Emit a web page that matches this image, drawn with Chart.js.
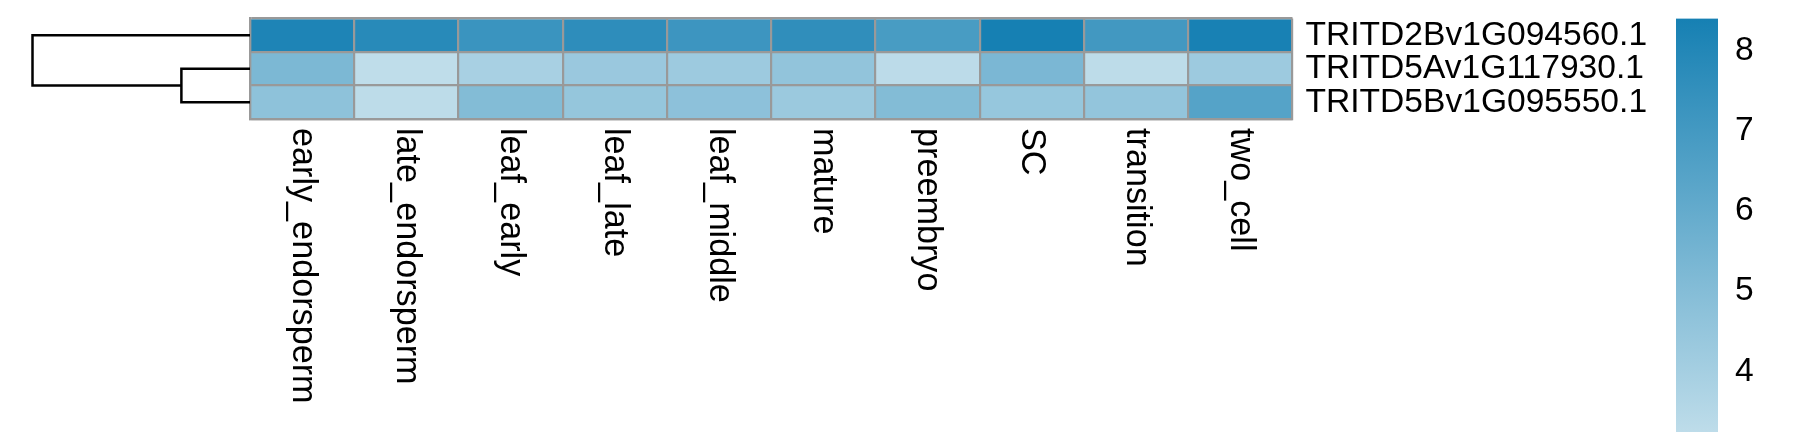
<!DOCTYPE html>
<html>
<head>
<meta charset="utf-8">
<script src="https://cdn.jsdelivr.net/npm/chart.js@4.4.1/dist/chart.umd.min.js"></script>
<style>
  html, body { margin: 0; padding: 0; background: #fff; }
  #wrap { position: relative; width: 1795px; height: 432px; overflow: hidden; background: #fff; }
  #wrap canvas { position: absolute; left: 0; top: 0; }
</style>
</head>
<body>
<div id="wrap">
  <canvas id="heatmap" width="1795" height="432"></canvas>
  <canvas id="legend" width="1795" height="440"></canvas>
</div>
<script>
// Datos: columnas (tejidos), filas (genes) y valores de expresión
const samples = ['early_endorsperm', 'late_endorsperm', 'leaf_early', 'leaf_late', 'leaf_middle',
                 'mature', 'preembryo', 'SC', 'transition', 'two_cell'];
const genes = ['TRITD2Bv1G094560.1', 'TRITD5Av1G117930.1', 'TRITD5Bv1G095550.1'];

const gene2B = [8.15, 7.85, 7.3, 7.65, 7.2, 7.6, 6.85, 8.4, 7.05, 8.35];
const gene5A = [5.25, 3.2, 3.9, 4.35, 4.25, 4.6, 3.3, 5.3, 3.25, 4.25];
const gene5B = [4.7, 3.25, 5.05, 4.5, 4.75, 4.3, 5.05, 4.45, 4.55, 6.45];
const rows = [gene2B, gene5A, gene5B];

const legendTicks = [4, 5, 6, 7, 8];

// Escala de color (lineal entre claro y oscuro)
const lowColor = [191, 221, 234];
const highColor = [22, 128, 179];
const valueMin = Math.min(...rows.flat());
const valueMax = Math.max(...rows.flat());

function colorFor(v) {
  const t = (v - valueMin) / (valueMax - valueMin);
  const c = lowColor.map((lo, k) => Math.round(lo + (highColor[k] - lo) * t));
  return `rgb(${c[0]}, ${c[1]}, ${c[2]})`;
}

// Clustering jerárquico (euclídeo, enlace completo) para el dendrograma
function hclustComplete(data) {
  const dist = (a, b) => Math.sqrt(a.reduce((s, v, k) => s + (v - b[k]) ** 2, 0));
  let clusters = data.map((r, i) => ({ leaf: i, members: [i], height: 0 }));
  while (clusters.length > 1) {
    let best = null;
    for (let i = 0; i < clusters.length; i++) {
      for (let j = i + 1; j < clusters.length; j++) {
        let d = 0;
        clusters[i].members.forEach(p => clusters[j].members.forEach(q => {
          d = Math.max(d, dist(data[p], data[q]));
        }));
        if (!best || d < best.d) best = { i, j, d };
      }
    }
    const a = clusters[best.i], b = clusters[best.j];
    const node = { children: [a, b], members: a.members.concat(b.members), height: best.d };
    clusters = clusters.filter((_, k) => k !== best.i && k !== best.j).concat([node]);
  }
  return clusters[0];
}
const tree = hclustComplete(rows);

const FONT = "'Liberation Sans', Arial, sans-serif";
Chart.defaults.font.family = FONT;
Chart.defaults.color = '#000';

const GRID = '#999999';
const treeLeft = 32.5;

const dendrogramPlugin = {
  id: 'dendrogram',
  afterDraw(chart) {
    const { ctx, chartArea, scales: { y } } = chart;
    const right = chartArea.left;
    const xFor = h => right - (h / tree.height) * (right - treeLeft);
    ctx.save();
    ctx.strokeStyle = '#000';
    ctx.lineWidth = 2.5;
    ctx.lineJoin = 'miter';
    ctx.lineCap = 'butt';
    function place(node) {
      if (node.children === undefined) {
        return { x: right, y: y.getPixelForValue(node.leaf + 0.5) };
      }
      const [c1, c2] = node.children.map(place);
      const nx = xFor(node.height);
      ctx.beginPath();
      ctx.moveTo(c1.x, c1.y);
      ctx.lineTo(nx, c1.y);
      ctx.lineTo(nx, c2.y);
      ctx.lineTo(c2.x, c2.y);
      ctx.stroke();
      return { x: nx, y: (c1.y + c2.y) / 2 };
    }
    place(tree);
    ctx.restore();
  }
};

const colLabelPlugin = {
  id: 'colLabels',
  afterDraw(chart) {
    const { ctx, chartArea, scales: { x } } = chart;
    ctx.save();
    ctx.font = '34.2px ' + FONT;
    ctx.fillStyle = '#000';
    ctx.textAlign = 'left';
    ctx.textBaseline = 'middle';
    samples.forEach((s, i) => {
      ctx.save();
      ctx.translate(x.getPixelForValue(i), chartArea.bottom + 9);
      ctx.rotate(Math.PI / 2);
      ctx.fillText(s, 0, 0);
      ctx.restore();
    });
    ctx.restore();
  }
};

// Mapa de calor
new Chart(document.getElementById('heatmap'), {
  type: 'bar',
  data: {
    labels: samples,
    datasets: rows.map((vals, r) => ({
      label: genes[r],
      data: vals.map(() => [r, r + 1]),
      backgroundColor: vals.map(colorFor),
      borderWidth: 0,
      barPercentage: 1,
      categoryPercentage: 1,
      grouped: false,
      yAxisID: 'y'
    }))
  },
  options: {
    responsive: false,
    animation: false,
    devicePixelRatio: 1,
    layout: { padding: { left: 250, top: 18.5, right: 0, bottom: 0 } },
    plugins: { legend: { display: false }, tooltip: { enabled: false } },
    scales: {
      x: {
        grid: { color: GRID, lineWidth: 2.2, drawTicks: false, offset: true, z: 1 },
        border: { color: GRID, width: 2.2, z: 1 },
        ticks: { display: false },
        afterFit: s => { s.height = 432 - 119; }
      },
      y: {
        position: 'left',
        min: 0, max: 3, reverse: true,
        grid: { color: GRID, lineWidth: 2.2, drawTicks: false, z: 1 },
        border: { color: GRID, width: 2.2, z: 1 },
        ticks: { display: false, stepSize: 1 },
        afterFit: s => { s.width = 0; }
      },
      genes: {
        type: 'category',
        position: 'right',
        labels: genes,
        offset: true,
        grid: { display: false, drawTicks: false },
        border: { display: false },
        ticks: { color: '#000', font: { size: 33.6 }, padding: 13, autoSkip: false },
        afterFit: s => { s.width = 1795 - 1292.5; s.paddingTop = 0; s.paddingBottom = 0; }
      }
    }
  },
  plugins: [dendrogramPlugin, colLabelPlugin]
});

// Leyenda de color
function gradientFill(context) {
  const chart = context.chart;
  const low = `rgb(${lowColor.join(',')})`;
  if (!chart.chartArea) return low;
  const y = chart.scales.y;
  const g = chart.ctx.createLinearGradient(0, y.getPixelForValue(valueMin), 0, y.getPixelForValue(valueMax));
  g.addColorStop(0, low);
  g.addColorStop(1, `rgb(${highColor.join(',')})`);
  return g;
}

const pxPerUnit = 80.2;
new Chart(document.getElementById('legend'), {
  type: 'bar',
  data: {
    labels: [''],
    datasets: [{
      data: [[valueMin, valueMax]],
      backgroundColor: gradientFill,
      borderWidth: 0,
      barPercentage: 1,
      categoryPercentage: 1
    }]
  },
  options: {
    responsive: false,
    animation: false,
    devicePixelRatio: 1,
    layout: { padding: { left: 1676, top: 18.5, right: 0,
                         bottom: 440 - 18.5 - (valueMax - valueMin) * pxPerUnit } },
    plugins: { legend: { display: false }, tooltip: { enabled: false } },
    scales: {
      x: { display: false },
      y: {
        position: 'right',
        min: valueMin, max: valueMax,
        grid: { display: false, drawTicks: false },
        border: { display: false },
        ticks: { color: '#000', font: { size: 33.6 }, padding: 17 },
        afterBuildTicks: s => { s.ticks = legendTicks.map(v => ({ value: v })); },
        afterFit: s => { s.width = 1795 - 1718; s.paddingTop = 0; s.paddingBottom = 0; }
      }
    }
  }
});
</script>
</body>
</html>
